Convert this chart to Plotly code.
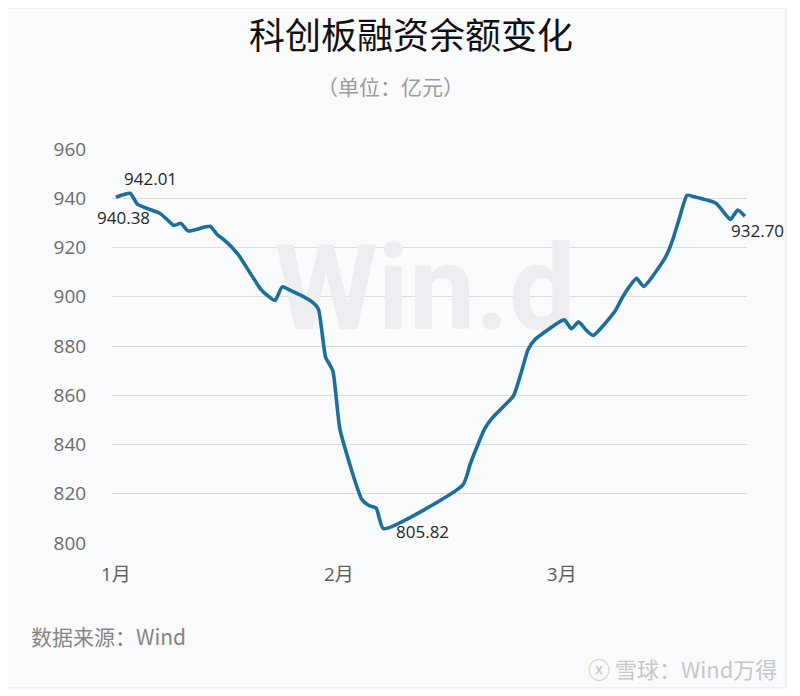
import plotly.graph_objects as go
import pandas as pd

# ---------------- data ----------------
dates = [
    "2024-01-02", "2024-01-03", "2024-01-04", "2024-01-05",
    "2024-01-08", "2024-01-09", "2024-01-10", "2024-01-11", "2024-01-12",
    "2024-01-15", "2024-01-16", "2024-01-17", "2024-01-18", "2024-01-19",
    "2024-01-22", "2024-01-23", "2024-01-24", "2024-01-25", "2024-01-26",
    "2024-01-29", "2024-01-30", "2024-01-31", "2024-02-01", "2024-02-02",
    "2024-02-05", "2024-02-06", "2024-02-07", "2024-02-08",
    "2024-02-19", "2024-02-20", "2024-02-21", "2024-02-22", "2024-02-23",
    "2024-02-26", "2024-02-27", "2024-02-28", "2024-02-29", "2024-03-01",
    "2024-03-04", "2024-03-05", "2024-03-06", "2024-03-07", "2024-03-08",
    "2024-03-11", "2024-03-12", "2024-03-13", "2024-03-14", "2024-03-15",
    "2024-03-18", "2024-03-19", "2024-03-20", "2024-03-21", "2024-03-22",
    "2024-03-25", "2024-03-26", "2024-03-27", "2024-03-28", "2024-03-29",
]
balance = [
    940.38, 941.4, 942.01, 937.5,
    934.0, 931.6, 929.0, 929.8, 926.7,
    928.6, 925.3, 923.0, 920.2, 916.8,
    903.2, 900.4, 898.5, 904.0, 902.8,
    898.2, 895.0, 875.5, 870.0, 846.0,
    817.8, 815.2, 814.2, 805.82,
    823.6, 832.0, 839.5, 846.3, 850.6,
    859.8, 868.6, 878.5, 882.7, 885.0,
    890.6, 887.0, 889.8, 886.6, 884.3,
    894.0, 899.4, 904.0, 907.5, 904.2,
    916.0, 923.0, 932.5, 941.2, 940.6,
    938.0, 934.6, 931.4, 935.2, 932.70,
]
# labelled points: (date, value text)
label_dates = ["2024-01-02", "2024-01-04", "2024-02-08", "2024-03-29"]
label_texts = ["940.38", "942.01", "805.82", "932.70"]

x_tickvals = ["2024-01-02", "2024-02-01 20:00", "2024-03-03 16:00"]
x_ticktext = ["1月", "2月", "3月"]
y_range = [800, 960]
y_step = 20
x_range = ["2024-01-01 11:00", "2024-03-29 07:00"]

title_text = "科创板融资余额变化"
subtitle_text = "（单位：亿元）"
source_text = "数据来源：Wind"
mark_text = "Win.d"
corner_text = "ⓧ 雪球：Wind万得"

# ---------------- layout geometry ----------------
# the page body has an 8px margin, so the figure is drawn 8px smaller and
# positions below are given in window pixels and shifted by OFF
OFF = 8
W, H = 800 - OFF, 696 - OFF
ML, MT = 112 - OFF, 149 - OFF
PW, PH = 635, 394
MR, MB = W - ML - PW, H - MT - PH


def px(xw):
    return (xw - OFF - ML) / PW


def py(yw):
    return (H - MB - (yw - OFF)) / PH


LINE = "#1B6F9A"
FONT = "Open Sans, Noto Sans CJK SC, sans-serif"
CJK = "Noto Sans CJK SC, sans-serif"

fig = go.Figure()

# faint "Win.d" watermark placed behind the line (in axis fractions)
xr = pd.to_datetime(x_range)
wm_x = xr[0] + (xr[1] - xr[0]) * 0.493
wm_y = y_range[0] + (y_range[1] - y_range[0]) * 0.617
fig.add_trace(go.Scatter(
    x=[wm_x], y=[wm_y], mode="text", text=[mark_text],
    textfont=dict(family="Roboto, sans-serif", size=118, color="#EDEEF1", weight="bold"),
    hoverinfo="skip", showlegend=False,
))

fig.add_trace(go.Scatter(
    x=dates, y=balance, mode="lines",
    line=dict(color=LINE, width=3.6, shape="spline", smoothing=0.5),
    showlegend=False,
))

# data labels
offsets = [(8, -20), (20, 15), (39, -3), (13, -14)]
lookup = dict(zip(dates, balance))
annotations = []
for d, t, (dx, dy) in zip(label_dates, label_texts, offsets):
    annotations.append(dict(
        x=d, y=lookup[d], xref="x", yref="y", text=t, showarrow=False,
        xshift=dx, yshift=dy, font=dict(family=FONT, size=17, color="#262626"),
    ))

annotations += [
    dict(x=px(390), y=py(86), xref="paper", yref="paper", text=subtitle_text,
         showarrow=False, xanchor="center", yanchor="middle",
         font=dict(family=CJK, size=21, color="#9A9A9A")),
    dict(x=px(29), y=py(636), xref="paper", yref="paper", text=source_text,
         showarrow=False, xanchor="left", yanchor="middle",
         font=dict(family=CJK, size=21, color="#858585")),
    dict(x=px(779), y=py(668), xref="paper", yref="paper", text=corner_text,
         showarrow=False, xanchor="right", yanchor="middle",
         font=dict(family=CJK, size=22, color="#C6C6C6")),
]

shapes = [
    dict(type="rect", xref="paper", yref="paper", layer="below",
         x0=px(4), x1=px(786), y0=py(688), y1=py(OFF),
         fillcolor="#FAFBFD", line=dict(color="#E6E7EA", width=1)),
]

fig.update_layout(
    width=W, height=H,
    margin=dict(l=ML, r=MR, t=MT, b=MB),
    paper_bgcolor="#FFFFFF",
    plot_bgcolor="rgba(0,0,0,0)",
    title=dict(text=title_text, x=(411 - OFF) / W, y=1 - (36 - OFF) / H,
               xref="container", yref="container",
               xanchor="center", yanchor="middle",
               font=dict(family=CJK, size=36, color="#111111")),
    annotations=annotations,
    shapes=shapes,
    xaxis=dict(
        type="date", range=x_range, tickvals=x_tickvals, ticktext=x_ticktext,
        showgrid=False, zeroline=False, showline=False,
        ticks="outside", ticklen=14, tickcolor="rgba(0,0,0,0)",
        tickfont=dict(family=FONT, size=19, color="#5E5E5E"),
    ),
    yaxis=dict(
        range=y_range, tick0=y_range[0], dtick=y_step,
        showgrid=True, gridcolor="#DCDCDC", gridwidth=1,
        zeroline=False, showline=False,
        ticks="outside", ticklen=21, tickcolor="rgba(0,0,0,0)",
        tickfont=dict(family=FONT, size=19, color="#6B6B6B"),
    ),
    hovermode=False,
)

fig.write_html("out.html")
